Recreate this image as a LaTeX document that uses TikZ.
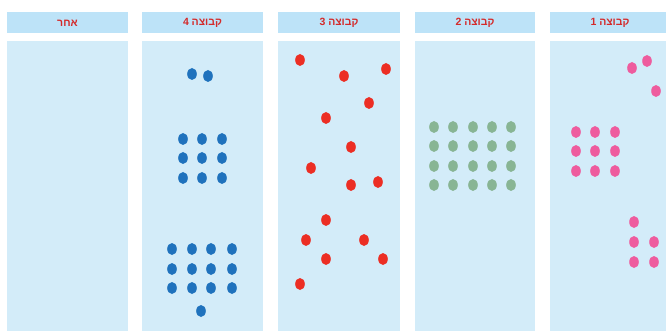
\documentclass[tikz,border=0pt]{standalone}
\usepackage{fontspec}
\setmainfont{Liberation Sans}
\newfontfamily\hebfont[Script=Hebrew]{Liberation Sans Bold}
\TeXXeTstate=1
\usetikzlibrary{shapes.geometric}
\definecolor{hdrblue}{HTML}{BDE3F8}
\definecolor{bodyblue}{HTML}{D3ECF9}
\definecolor{hdrred}{HTML}{D42A2A}
\definecolor{pinkdot}{HTML}{EE5C9E}
\definecolor{greendot}{HTML}{88B594}
\definecolor{bluedot}{HTML}{1F72BD}
\definecolor{reddot}{HTML}{EC2E24}
\tikzset{
  hdr/.style={fill=hdrblue, draw=none, inner sep=0pt, minimum height=21pt, text=hdrred, font=\hebfont\fontsize{10.5}{12}\selectfont},
  colbody/.style={fill=bodyblue, draw=none},
  dot/.style={ellipse, draw=none, inner sep=0pt, minimum width=9.6pt, minimum height=12pt},
}
\begin{document}
\begin{tikzpicture}[x=1pt,y=-1pt]
\useasboundingbox (0,0) rectangle (666,331);
% column bodies
\fill[colbody] (7,41) rectangle (128,331);
\fill[colbody] (142,41) rectangle (263,331);
\fill[colbody] (278,41) rectangle (400,331);
\fill[colbody] (415,41) rectangle (535,331);
\fill[colbody] (550,41) rectangle (666,331);
% headers
\fill[hdrblue] (7,12) rectangle (128,33);
\fill[hdrblue] (142,12) rectangle (263,33);
\fill[hdrblue] (278,12) rectangle (400,33);
\fill[hdrblue] (415,12) rectangle (535,33);
\fill[hdrblue] (550,12) rectangle (666,33);
\node[hdr, fill=none, minimum height=0pt] (h5) at (67.5,23) {\beginR אחר\endR};
\node[hdr, fill=none, minimum height=0pt] (h4) at (202.5,23) {\beginR קבוצה 4\endR};
\node[hdr, fill=none, minimum height=0pt] (h3) at (339,23) {\beginR קבוצה 3\endR};
\node[hdr, fill=none, minimum height=0pt] (h2) at (475,23) {\beginR קבוצה 2\endR};
\node[hdr, fill=none, minimum height=0pt] (h1) at (610,23) {\beginR קבוצה 1\endR};
% group 1 pink
\foreach \x/\y [count=\i] in {632/68,647/61,656/91,
  576/132,595/132,615/132,576/151,595/151,615/151,576/171,595/171,615/171,
  634/222,634/242,654/242,634/262,654/262}
  \node[dot, fill=pinkdot] (p\i) at (\x,\y) {};
% group 2 green
\foreach \x [count=\i] in {434,453,473,492,511}
  \foreach \y [count=\j] in {127,146,166,185}
    \node[dot, fill=greendot] (g\i-\j) at (\x,\y) {};
% group 3 red
\foreach \x/\y [count=\i] in {300/60,344/76,386/69,369/103,326/118,351/147,311/168,351/185,378/182,326/220,306/240,364/240,326/259,383/259,300/284}
  \node[dot, fill=reddot] (r\i) at (\x,\y) {};
% group 4 blue
\foreach \x/\y [count=\i] in {192/74,208/76,
  183/139,202/139,222/139,183/158,202/158,222/158,183/178,202/178,222/178,
  172/249,192/249,211/249,232/249,172/269,192/269,211/269,232/269,172/288,192/288,211/288,232/288,201/311}
  \node[dot, fill=bluedot] (b\i) at (\x,\y) {};
\end{tikzpicture}
\end{document}
